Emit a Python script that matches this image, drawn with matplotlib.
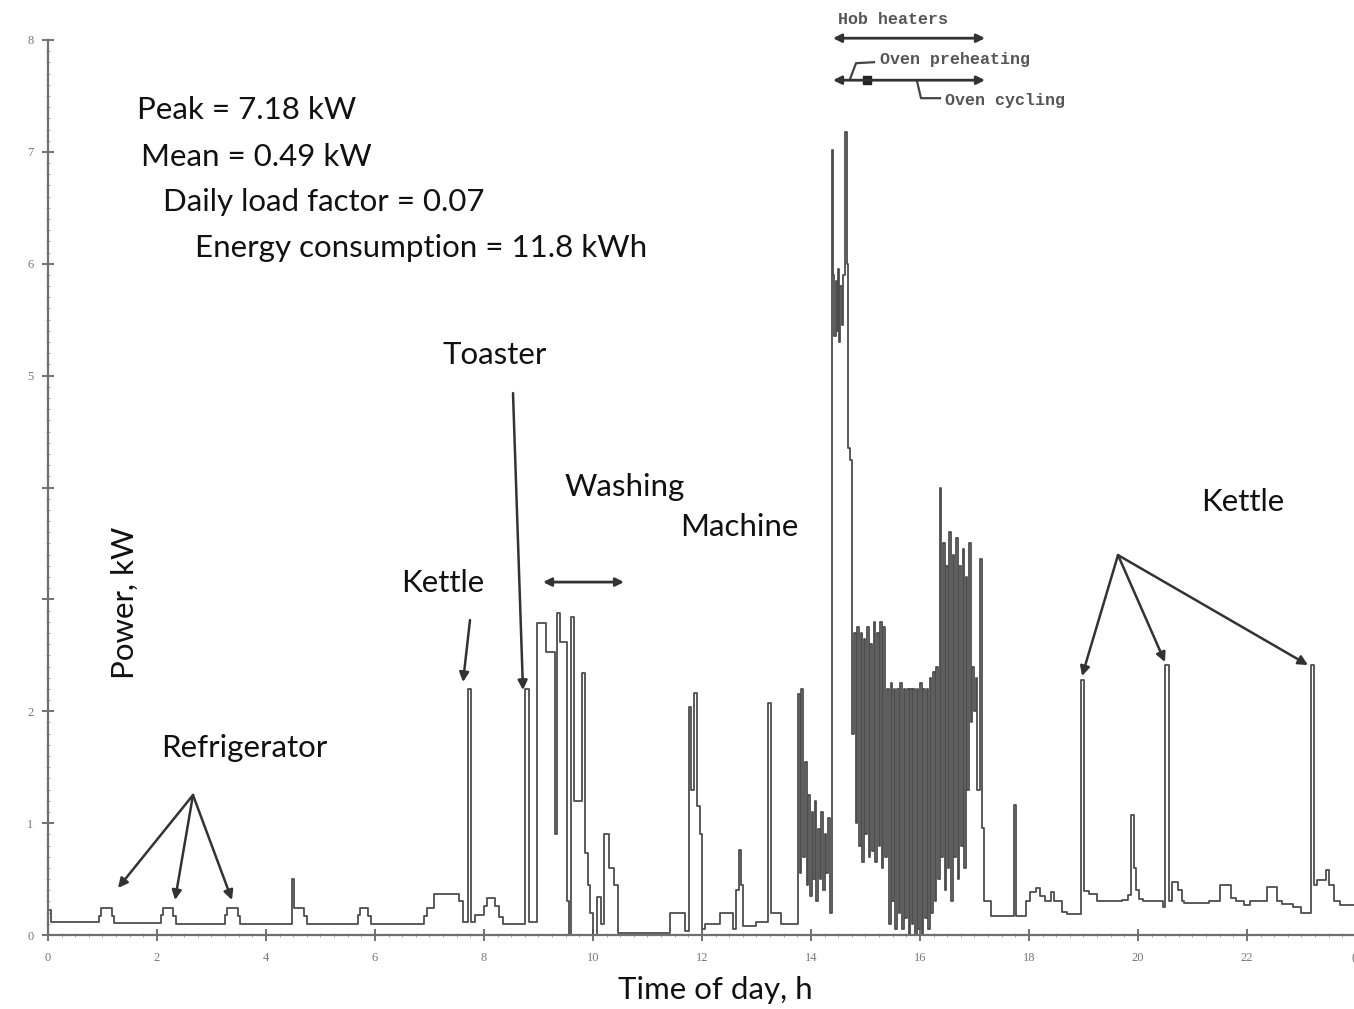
import matplotlib
matplotlib.use("Agg")
import matplotlib.pyplot as plt
import numpy as np

# ---- data: step-wise household load profile (time in h, power in kW, value holds until next time)
time_h = [
    0.00, 0.06, 0.93, 0.98, 1.17, 1.22, 2.07, 2.11, 2.30, 2.35, 3.24, 3.28, 3.48, 3.53,
    4.47, 4.51, 4.70, 4.75, 5.68, 5.72, 5.88, 5.93, 6.90, 6.96, 7.08, 7.55, 7.62, 7.70,
    7.77, 7.84, 8.00, 8.05, 8.20, 8.28, 8.35, 8.76, 8.83,
    # washing machine
    8.98, 9.13, 9.30, 9.34, 9.40, 9.52, 9.56, 9.60, 9.66, 9.80, 9.85, 9.90, 9.95, 10.00,
    10.08, 10.14, 10.20, 10.30, 10.38, 10.46,
    11.41, 11.69, 11.76, 11.80, 11.86, 11.90, 11.96, 12.00, 12.05, 12.33, 12.57, 12.62,
    12.67, 12.71, 12.76, 13.00, 13.22, 13.27, 13.45,
    # cooking period
    13.76, 13.79, 13.82, 13.86, 13.89, 13.92, 13.95, 13.98, 14.01, 14.04, 14.07, 14.10,
    14.13, 14.16, 14.19, 14.22, 14.25, 14.28, 14.31, 14.34,
    14.38, 14.41, 14.43, 14.45, 14.47, 14.49, 14.51, 14.53, 14.56, 14.59, 14.62, 14.66,
    14.68, 14.71, 14.76, 14.79, 14.82, 14.85, 14.88, 14.91, 14.94, 14.97, 15.00, 15.03,
    15.06, 15.09, 15.12, 15.15, 15.18, 15.21, 15.24, 15.27, 15.30, 15.33, 15.36, 15.40,
    15.43, 15.46, 15.49, 15.52, 15.55, 15.58, 15.61, 15.64, 15.67, 15.70, 15.73, 15.76,
    15.79, 15.82, 15.85, 15.88, 15.91, 15.94, 15.97, 16.00, 16.03, 16.06, 16.09, 16.12,
    16.15, 16.18, 16.21, 16.24, 16.27, 16.30, 16.33, 16.36, 16.39, 16.42, 16.45, 16.48,
    16.51, 16.54, 16.57, 16.60, 16.63, 16.66, 16.69, 16.72, 16.75, 16.78, 16.81, 16.84,
    16.87, 16.90, 16.93, 16.96, 16.99, 17.02, 17.05, 17.10, 17.14, 17.18,
    # evening
    17.22, 17.30, 17.72, 17.77, 17.95, 18.02, 18.12, 18.20, 18.30, 18.40, 18.45, 18.60,
    18.70, 18.95, 19.01, 19.10, 19.25, 19.70, 19.82, 19.87, 19.93, 19.97, 20.02, 20.10,
    20.45, 20.50, 20.57, 20.62, 20.74, 20.80, 20.85, 21.30, 21.50, 21.70, 21.80, 21.95,
    22.05, 22.36, 22.55, 22.65, 22.85, 23.00, 23.17, 23.23, 23.28, 23.45, 23.50, 23.60,
    23.70, 24.00,
]
power_kw = [
    0.22, 0.12, 0.17, 0.24, 0.17, 0.11, 0.18, 0.24, 0.17, 0.10, 0.18, 0.24, 0.17, 0.10,
    0.50, 0.24, 0.17, 0.10, 0.18, 0.24, 0.17, 0.10, 0.17, 0.24, 0.37, 0.30, 0.12, 2.20,
    0.12, 0.18, 0.26, 0.33, 0.26, 0.16, 0.10, 2.20, 0.12,
    2.79, 2.53, 0.90, 2.88, 2.62, 0.30, 0.00, 2.84, 1.20, 2.34, 0.73, 0.45, 0.20, 0.00,
    0.34, 0.10, 0.90, 0.60, 0.45, 0.02,
    0.20, 0.04, 2.04, 1.30, 2.16, 1.15, 0.90, 0.05, 0.10, 0.20, 0.05, 0.40,
    0.76, 0.45, 0.08, 0.12, 2.07, 0.20, 0.10,
    2.15, 0.55, 2.20, 0.70, 1.55, 0.45, 1.25, 0.35, 1.10, 0.50, 1.20, 0.30,
    0.95, 0.50, 1.10, 0.40, 0.90, 0.55, 1.05, 0.20,
    7.02, 5.90, 5.35, 5.85, 5.40, 5.95, 5.30, 5.80, 5.45, 5.90, 7.18, 6.00,
    4.35, 4.25, 1.80, 2.70, 1.00, 2.75, 0.80, 2.70, 0.65, 2.65, 0.90, 2.75,
    0.70, 2.60, 0.75, 2.80, 0.65, 2.70, 0.80, 2.80, 0.60, 2.75, 0.70, 2.20,
    0.10, 2.25, 0.30, 2.20, 0.05, 2.20, 0.20, 2.25, 0.05, 2.20, 0.15, 2.20,
    0.00, 2.20, 0.10, 2.20, 0.00, 2.20, 0.05, 2.25, 0.00, 2.20, 0.15, 2.20,
    0.05, 2.30, 0.20, 2.35, 0.30, 2.40, 0.50, 4.00, 0.70, 3.50, 0.40, 3.30,
    0.60, 3.60, 0.30, 3.40, 0.70, 3.55, 0.50, 3.30, 0.80, 3.45, 0.60, 3.20,
    1.30, 3.50, 1.90, 2.40, 2.00, 2.30, 1.30, 3.36, 0.96, 0.30,
    0.30, 0.17, 1.16, 0.17, 0.30, 0.38, 0.42, 0.35, 0.30, 0.38, 0.30, 0.21,
    0.19, 2.28, 0.39, 0.37, 0.30, 0.31, 0.36, 1.07, 0.60, 0.40, 0.32, 0.30,
    0.25, 2.41, 0.30, 0.47, 0.40, 0.30, 0.29, 0.30, 0.45, 0.33, 0.30, 0.27,
    0.30, 0.43, 0.30, 0.28, 0.25, 0.20, 2.41, 0.45, 0.49, 0.58, 0.45, 0.30,
    0.27, 0.27,
]

stats_lines = ["Peak = 7.18 kW", "Mean = 0.49 kW", "Daily load factor = 0.07",
               "Energy consumption = 11.8 kWh"]
x_ticks = [0, 2, 4, 6, 8, 10, 12, 14, 16, 18, 20, 22, 24]
x_tick_labels = ["0", "2", "4", "6", "8", "10", "12", "14", "16", "18", "20", "22", "("]
y_ticks = [0, 1, 2, 3, 4, 5, 6, 7, 8]
y_tick_labels = ["0", "1", "2", "", "", "5", "6", "7", "8"]

W, H = 1354, 1009
fig = plt.figure(figsize=(W / 100, H / 100), dpi=100)
ax = fig.add_axes([48 / W, 1 - 935 / H, 1308 / W, 895 / H])
ax.set_xlim(0, 24)
ax.set_ylim(0, 8)

ax.plot(time_h, power_kw, drawstyle="steps-post", color="#4d4d4d", lw=1.3)

for s in ["top", "right"]:
    ax.spines[s].set_visible(False)
for s in ["left", "bottom"]:
    ax.spines[s].set_color("#6f6f6f")
    ax.spines[s].set_linewidth(1.6)

ax.set_xticks(x_ticks)
ax.set_xticklabels(x_tick_labels, family="Liberation Serif", fontsize=9, color="#777777")
ax.get_xticklabels()[-1].set_horizontalalignment("right")
ax.set_yticks(y_ticks)
ax.set_yticklabels(y_tick_labels, family="Liberation Serif", fontsize=9, color="#777777")
ax.set_xticks(np.arange(0, 24.01, 0.25), minor=True)
ax.set_yticks(np.arange(0, 8.01, 0.1), minor=True)
ax.tick_params(which="major", direction="inout", length=9, width=1.3, color="#666666")
ax.tick_params(axis="x", which="major", pad=8)
ax.tick_params(axis="y", which="major", pad=6)
ax.tick_params(which="minor", direction="inout", length=3, width=0.6, color="#999999")

txt = dict(family=["Lato", "DejaVu Sans"], fontsize=22.5, color="#111111")

# statistics block
stat_pos = [(137, 110), (141, 157), (163, 202), (195, 248)]
for (px, py), s in zip(stat_pos, stats_lines):
    fig.text(px / W, 1 - py / H, s, ha="left", va="center", **txt)

# axis labels
fig.text(125 / W, 1 - 603 / H, "Power, kW", rotation=90, ha="center", va="center", **txt)
fig.text(715 / W, 1 - 990 / H, "Time of day, h", ha="center", va="center", **txt)

# appliance labels (data coords)
def d(px, py):
    return ((px - 48) / 54.5, (935 - py) / 111.9)

for (px, py), s in [((443, 355), "Toaster"), ((565, 487), "Washing"), ((680, 527), "Machine"),
                    ((401, 583), "Kettle"), ((1201, 502), "Kettle"), ((161, 748), "Refrigerator")]:
    x, y = d(px, py)
    ax.text(x, y, s, ha="left", va="center", **txt)

arw = dict(arrowstyle="-|>", color="#333333", lw=1.8, mutation_scale=14, shrinkA=0, shrinkB=0)
dbl = dict(arrowstyle="<|-|>", color="#333333", lw=2.0, mutation_scale=12, shrinkA=0, shrinkB=0)

def arrow(p0, p1, props=arw):
    ax.annotate("", xy=d(*p1), xytext=d(*p0), arrowprops=props, annotation_clip=False)

for end in [(118, 888), (175, 900), (232, 900)]:
    arrow((193, 795), end)
arrow((513, 393), (523, 690))
arrow((470, 620), (463, 682))
arrow((543, 582), (624, 582), dbl)
for end in [(1082, 676), (1165, 662), (1308, 665)]:
    arrow((1118, 555), end)

# cooking annotations at top
arrow((833, 38), (985, 38), dbl)
arrow((833, 80), (985, 80), dbl)
mono = dict(family="Liberation Mono", fontsize=12, color="#555555", fontweight="bold")
x, y = d(838, 19)
ax.text(x, y, "Hob heaters", ha="left", va="center", **mono)
x, y = d(880, 59)
ax.text(x, y, "Oven preheating", ha="left", va="center", **mono)
x, y = d(945, 100)
ax.text(x, y, "Oven cycling", ha="left", va="center", **mono)
# leaders
lx, ly = zip(*[d(850, 79), d(856, 63), d(874, 62)])
ax.plot(lx, ly, color="#444444", lw=1.6, clip_on=False)
lx, ly = zip(*[d(917, 81), d(921, 98), d(940, 98)])
ax.plot(lx, ly, color="#444444", lw=1.6, clip_on=False)
mx, my = d(867, 80)
ax.plot([mx], [my], marker="s", ms=6, color="#222222", clip_on=False)

fig.savefig("out.png", dpi=100)
